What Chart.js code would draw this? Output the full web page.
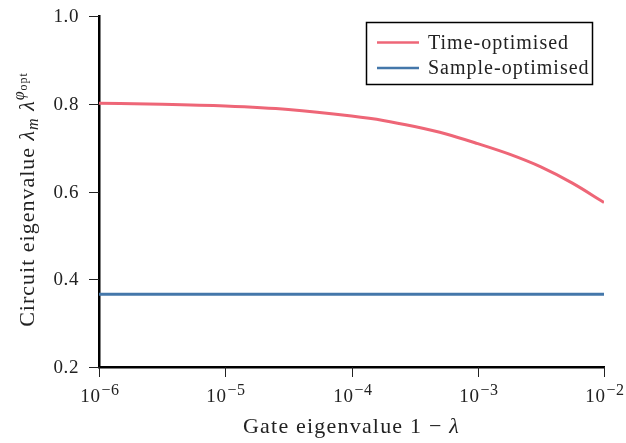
<!DOCTYPE html>
<html>
<head>
<meta charset="utf-8">
<script src="https://cdn.jsdelivr.net/npm/chart.js@4.4.1/dist/chart.umd.min.js"></script>
<style>
  html, body { margin: 0; padding: 0; background: #fff; }
  #chart-box { width: 626px; height: 443px; }
</style>
</head>
<body>
<div id="chart-box"><canvas id="eigen-chart" width="626" height="443"></canvas></div>
<script>
// values
const gateError = [1e-6, 3.16e-6, 1e-5, 3.16e-5, 1e-4, 1.78e-4, 3.16e-4, 5.62e-4, 1e-3, 1.78e-3, 3.16e-3, 5.62e-3, 1e-2];
const timeOptimised = [0.801, 0.799, 0.795, 0.787, 0.772, 0.762, 0.748, 0.731, 0.709, 0.685, 0.656, 0.619, 0.575];
const sampleOptimised = [0.366, 0.366, 0.366, 0.366, 0.366, 0.366, 0.366, 0.366, 0.366, 0.366, 0.366, 0.366, 0.366];
const xTicks = [1e-6, 1e-5, 1e-4, 1e-3, 1e-2];
const xTickExponents = ['\u22126', '\u22125', '\u22124', '\u22123', '\u22122'];
const yTicks = [0.2, 0.4, 0.6, 0.8, 1.0];
const seriesLabels = ['Time-optimised', 'Sample-optimised'];
const seriesColors = ['#EE6677', '#4477AA'];

const SERIF = '"Liberation Serif", "DejaVu Serif", serif';

const toPoints = (ys) => gateError.map((x, i) => ({ x, y: ys[i] }));

// draws tick marks, labels, axis titles and the boxed legend
const decorations = {
  id: 'decorations',
  afterDraw(chart) {
    const { ctx, chartArea, scales } = chart;
    const xs = scales.x;
    const ys = scales.y;
    ctx.save();
    ctx.fillStyle = '#222';
    ctx.strokeStyle = '#222';
    ctx.lineWidth = 1;

    // y ticks
    ctx.letterSpacing = '0.6px';
    ctx.font = '19px ' + SERIF;
    ctx.textAlign = 'right';
    ctx.textBaseline = 'middle';
    yTicks.forEach((v) => {
      const py = Math.round(ys.getPixelForValue(v)) + 0.5;
      ctx.beginPath();
      ctx.moveTo(chartArea.left - 10, py);
      ctx.lineTo(chartArea.left, py);
      ctx.stroke();
      ctx.fillText(v.toFixed(1), chartArea.left - 20, py + 1);
    });

    // x ticks: 10 with a raised exponent
    ctx.textAlign = 'left';
    ctx.textBaseline = 'alphabetic';
    xTicks.forEach((v, i) => {
      const px = Math.round(xs.getPixelForValue(v)) + 0.5;
      ctx.beginPath();
      ctx.moveTo(px, chartArea.bottom);
      ctx.lineTo(px, chartArea.bottom + 10);
      ctx.stroke();
      ctx.font = '19px ' + SERIF;
      const baseW = ctx.measureText('10').width;
      ctx.font = '16px ' + SERIF;
      const expW = ctx.measureText(xTickExponents[i]).width;
      const startX = px - (baseW + expW) / 2;
      ctx.font = '19px ' + SERIF;
      ctx.fillText('10', startX, chartArea.bottom + 35);
      ctx.font = '16px ' + SERIF;
      ctx.fillText(xTickExponents[i], startX + baseW + 1, chartArea.bottom + 28);
    });

    // x title
    ctx.letterSpacing = '1.2px';
    ctx.font = '22px ' + SERIF;
    const xPlain = 'Gate eigenvalue 1 \u2212 ';
    const xPlainW = ctx.measureText(xPlain).width;
    ctx.font = 'italic 22px ' + SERIF;
    const lamW = ctx.measureText('\u03bb').width;
    let tx = (chartArea.left + chartArea.right) / 2 - (xPlainW + lamW) / 2;
    ctx.font = '22px ' + SERIF;
    ctx.fillText(xPlain, tx, 433);
    ctx.font = 'italic 22px ' + SERIF;
    ctx.fillText('\u03bb', tx + xPlainW, 433);

    // y title, rotated; pieces: [text, font, baseline shift]
    ctx.letterSpacing = '1px';
    const pieces = [
      ['Circuit eigenvalue ', '22px ', 0],
      ['\u03bb', 'italic 22px ', 0],
      ['m', 'italic 16px ', 4],
      [' ', '22px ', 0],
      ['\u03bb', 'italic 22px ', 0],
      ['\u03c6', 'italic 16px ', -10],
      ['opt', '12px ', -7],
    ];
    let total = 0;
    const widths = pieces.map(([t, f]) => {
      ctx.font = f + SERIF;
      const w = ctx.measureText(t).width;
      total += w;
      return w;
    });
    ctx.translate(34, (chartArea.top + chartArea.bottom) / 2 + 8);
    ctx.rotate(-Math.PI / 2);
    let cx = -total / 2;
    pieces.forEach(([t, f, dy], i) => {
      ctx.font = f + SERIF;
      ctx.fillText(t, cx, dy);
      cx += widths[i];
    });
    ctx.setTransform(1, 0, 0, 1, 0, 0);

    // legend box
    ctx.letterSpacing = '1px';
    ctx.strokeStyle = '#000';
    ctx.lineWidth = 1.5;
    ctx.strokeRect(366.5, 22.5, 226, 62);
    ctx.font = '20px ' + SERIF;
    ctx.textBaseline = 'middle';
    seriesLabels.forEach((label, i) => {
      const ly = 42.5 + i * 25.5;
      ctx.strokeStyle = seriesColors[i];
      ctx.lineWidth = 2.5;
      ctx.beginPath();
      ctx.moveTo(377, ly);
      ctx.lineTo(419, ly);
      ctx.stroke();
      ctx.fillStyle = '#222';
      ctx.fillText(label, 428, ly + 1);
    });
    ctx.restore();
  }
};

new Chart(document.getElementById('eigen-chart'), {
  type: 'line',
  data: {
    datasets: [
      {
        label: seriesLabels[0],
        data: toPoints(timeOptimised),
        borderColor: seriesColors[0],
        borderWidth: 3,
        pointRadius: 0,
        cubicInterpolationMode: 'monotone',
        fill: false
      },
      {
        label: seriesLabels[1],
        data: toPoints(sampleOptimised),
        borderColor: seriesColors[1],
        borderWidth: 3,
        pointRadius: 0,
        tension: 0,
        fill: false
      }
    ]
  },
  options: {
    responsive: false,
    animation: false,
    devicePixelRatio: 1,
    layout: { padding: { left: 99, right: 22, top: 16, bottom: 76 } },
    plugins: {
      legend: { display: false },
      tooltip: { enabled: false }
    },
    scales: {
      x: {
        type: 'logarithmic',
        min: 1e-6,
        max: 1e-2,
        ticks: { display: false },
        grid: { display: false, drawTicks: false },
        border: { display: true, color: '#000', width: 2.5 }
      },
      y: {
        type: 'linear',
        min: 0.2,
        max: 1.0,
        ticks: { display: false },
        grid: { display: false, drawTicks: false },
        border: { display: true, color: '#000', width: 2.5 }
      }
    }
  },
  plugins: [decorations]
});
</script>
</body>
</html>
